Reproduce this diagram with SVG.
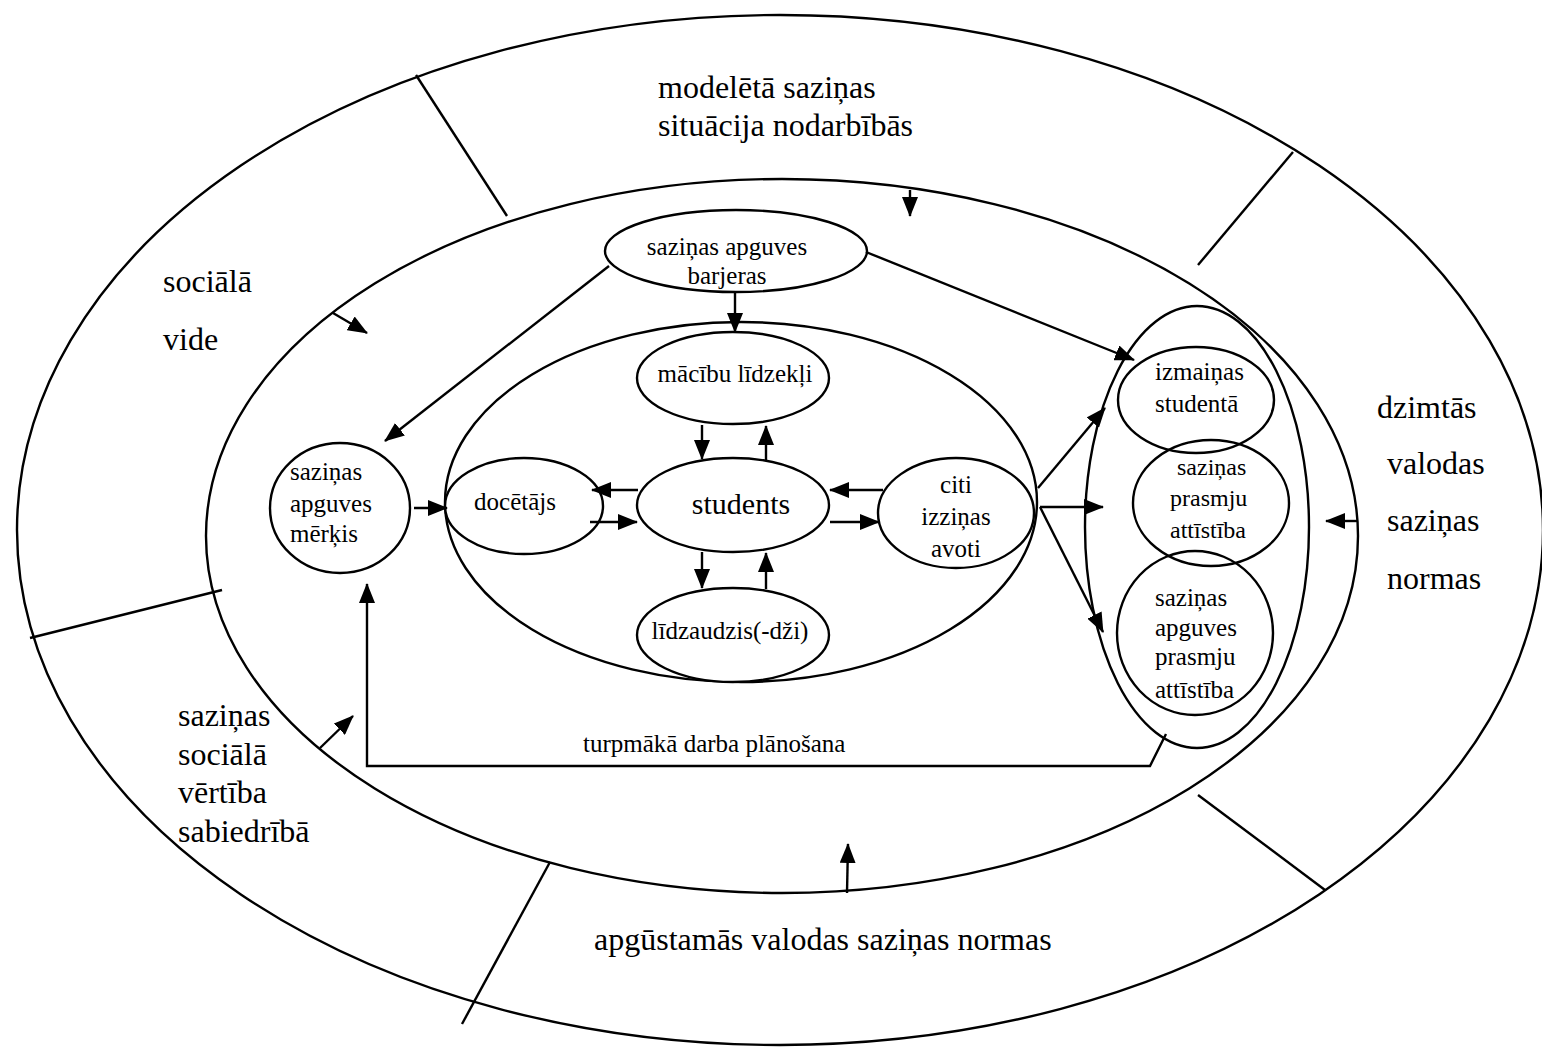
<svg xmlns="http://www.w3.org/2000/svg" width="1542" height="1052" viewBox="0 0 1542 1052">
<style>
.sh{fill:none;stroke:#000;stroke-width:2.4}
.nd{fill:#fff;stroke:#000;stroke-width:2.4}
.ln{fill:none;stroke:#000;stroke-width:2.4}
text{font-family:"Liberation Serif","Times New Roman",serif;fill:#000}
.big{font-size:32px}
.t{font-size:25px}
.tm{font-size:24px}
</style>
<defs>
<marker id="ah" markerUnits="userSpaceOnUse" markerWidth="20" markerHeight="16" refX="19" refY="8" orient="auto">
<path d="M0,0 L20,8 L0,16 z" fill="#000"/>
</marker>
</defs>
<rect width="1542" height="1052" fill="#fff"/>
<g id="frame">
<ellipse class="sh" cx="780" cy="530" rx="763" ry="515"/>
<ellipse class="sh" cx="782" cy="536" rx="576" ry="357"/>
<line class="ln" x1="416" y1="75" x2="507" y2="216"/>
<line class="ln" x1="1198" y1="265" x2="1293" y2="152"/>
<line class="ln" x1="30" y1="638" x2="222" y2="590"/>
<line class="ln" x1="550" y1="862" x2="462" y2="1024"/>
<line class="ln" x1="1198" y1="795" x2="1325" y2="890"/>
<text class="big" x="658" y="98">modelētā saziņas</text>
<text class="big" x="658" y="136">situācija nodarbībās</text>
<text class="big" x="163" y="292">sociālā</text>
<text class="big" x="163" y="350">vide</text>
<text class="big" x="1377" y="418">dzimtās</text>
<text class="big" x="1387" y="474">valodas</text>
<text class="big" x="1387" y="531">saziņas</text>
<text class="big" x="1387" y="589">normas</text>
<text class="big" x="178" y="726">saziņas</text>
<text class="big" x="178" y="765">sociālā</text>
<text class="big" x="178" y="803">vērtība</text>
<text class="big" x="178" y="842">sabiedrībā</text>
<text class="big" x="594" y="950">apgūstamās valodas saziņas normas</text>
</g>
<g id="inner-field">
<ellipse class="sh" cx="741" cy="502" rx="296" ry="180"/>
</g>
<g id="cluster">
<ellipse class="sh" cx="1197" cy="527" rx="112" ry="221"/>
</g>
<g id="node-barjeras">
<ellipse class="nd" cx="736" cy="251" rx="131" ry="41"/>
<text class="t" x="727" y="255" text-anchor="middle">saziņas apguves</text>
<text class="t" x="727" y="284" text-anchor="middle">barjeras</text>
</g>
<g id="node-merkis">
<ellipse class="nd" cx="340" cy="508" rx="70" ry="65"/>
<text class="t" x="290" y="480">saziņas</text>
<text class="t" x="290" y="512">apguves</text>
<text class="t" x="290" y="542">mērķis</text>
</g>
<g id="node-macibu">
<ellipse class="nd" cx="733" cy="378" rx="96" ry="46"/>
<text class="t" x="735" y="382" text-anchor="middle">mācību līdzekļi</text>
</g>
<g id="node-docetajs">
<ellipse class="nd" cx="524" cy="506" rx="79" ry="48"/>
<text class="t" x="515" y="510" text-anchor="middle">docētājs</text>
</g>
<g id="node-students">
<ellipse class="nd" cx="733" cy="505" rx="96" ry="47"/>
<text x="741" y="514" text-anchor="middle" style="font-size:30px">students</text>
</g>
<g id="node-lidzaudzis">
<ellipse class="nd" cx="733" cy="635" rx="96" ry="47"/>
<text class="t" x="730" y="639" text-anchor="middle">līdzaudzis(-dži)</text>
</g>
<g id="node-citi">
<ellipse class="nd" cx="956" cy="513" rx="78" ry="55"/>
<text class="t" x="956" y="493" text-anchor="middle">citi</text>
<text class="t" x="956" y="525" text-anchor="middle">izziņas</text>
<text class="t" x="956" y="557" text-anchor="middle">avoti</text>
</g>
<g id="node-izmainas">
<ellipse class="sh" cx="1196" cy="400" rx="78" ry="53"/>
<text class="t" x="1155" y="380">izmaiņas</text>
<text class="t" x="1155" y="412">studentā</text>
</g>
<g id="node-prasmju">
<ellipse class="sh" cx="1211" cy="503" rx="78" ry="63"/>
<text class="tm" x="1177" y="475">saziņas</text>
<text class="tm" x="1170" y="506">prasmju</text>
<text class="tm" x="1170" y="538">attīstība</text>
</g>
<g id="node-apguves-prasmju">
<ellipse class="sh" cx="1195" cy="633" rx="78" ry="82"/>
<text class="t" x="1155" y="606">saziņas</text>
<text class="t" x="1155" y="636">apguves</text>
<text class="t" x="1155" y="665">prasmju</text>
<text class="t" x="1155" y="698">attīstība</text>
</g>
<g id="connectors" class="ln">
<line class="ln" x1="609" y1="266" x2="385" y2="441" marker-end="url(#ah)"/>
<line class="ln" x1="866" y1="252" x2="1134" y2="360" marker-end="url(#ah)"/>
<line class="ln" x1="735" y1="292" x2="735" y2="332" marker-end="url(#ah)"/>
<line class="ln" x1="414" y1="508" x2="447" y2="508" marker-end="url(#ah)"/>
<line class="ln" x1="638" y1="490" x2="592" y2="490" marker-end="url(#ah)"/>
<line class="ln" x1="590" y1="522" x2="637" y2="522" marker-end="url(#ah)"/>
<line class="ln" x1="702" y1="425" x2="702" y2="459" marker-end="url(#ah)"/>
<line class="ln" x1="766" y1="460" x2="766" y2="426" marker-end="url(#ah)"/>
<line class="ln" x1="702" y1="552" x2="702" y2="588" marker-end="url(#ah)"/>
<line class="ln" x1="766" y1="589" x2="766" y2="553" marker-end="url(#ah)"/>
<line class="ln" x1="883" y1="490" x2="830" y2="490" marker-end="url(#ah)"/>
<line class="ln" x1="830" y1="522" x2="879" y2="522" marker-end="url(#ah)"/>
<line class="ln" x1="1038" y1="488" x2="1105" y2="408" marker-end="url(#ah)"/>
<line class="ln" x1="1040" y1="507" x2="1103" y2="507" marker-end="url(#ah)"/>
<line class="ln" x1="1040" y1="507" x2="1103" y2="632" marker-end="url(#ah)"/>
<polyline class="ln" points="1166,734 1150,766 367,766 367,584" marker-end="url(#ah)"/>
<line class="ln" x1="333" y1="313" x2="367" y2="333" marker-end="url(#ah)"/>
<line class="ln" x1="910" y1="190" x2="910" y2="216" marker-end="url(#ah)"/>
<line class="ln" x1="1357" y1="521" x2="1326" y2="521" marker-end="url(#ah)"/>
<line class="ln" x1="847" y1="893" x2="848" y2="844" marker-end="url(#ah)"/>
<line class="ln" x1="320" y1="748" x2="353" y2="716" marker-end="url(#ah)"/>
</g>
<text class="t" x="583" y="752">turpmākā darba plānošana</text>
</svg>
